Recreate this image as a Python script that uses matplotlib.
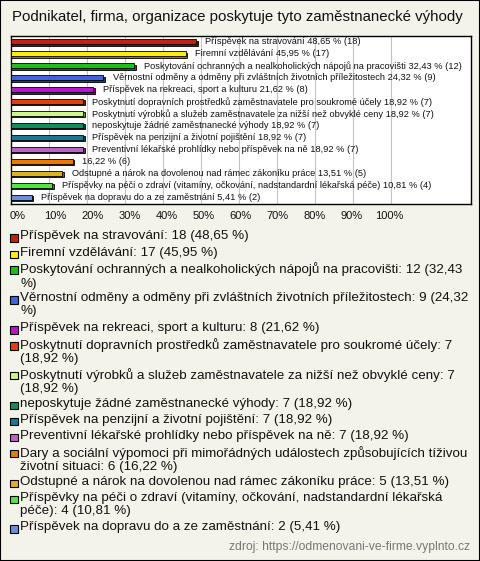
import matplotlib
matplotlib.use("Agg")
import matplotlib.pyplot as plt
from matplotlib.colors import to_rgb
from matplotlib.patches import Rectangle

W, H = 480, 561
BG = "#f3f3ea"
FONT = "Liberation Sans"

TITLE = "Podnikatel, firma, organizace poskytuje tyto zaměstnanecké výhody"
SOURCE = "zdroj: https://odmenovani-ve-firme.vyplnto.cz"

labels = [
    "Příspěvek na stravování",
    "Firemní vzdělávání",
    "Poskytování ochranných a nealkoholických nápojů na pracovišti",
    "Věrnostní odměny a odměny při zvláštních životních příležitostech",
    "Příspěvek na rekreaci, sport a kulturu",
    "Poskytnutí dopravních prostředků zaměstnavatele pro soukromé účely",
    "Poskytnutí výrobků a služeb zaměstnavatele za nižší než obvyklé ceny",
    "neposkytuje žádné zaměstnanecké výhody",
    "Příspěvek na penzijní a životní pojištění",
    "Preventivní lékařské prohlídky nebo příspěvek na ně",
    "Dary a sociální výpomoci při mimořádných událostech způsobujících tíživou životní situaci",
    "Odstupné a nárok na dovolenou nad rámec zákoníku práce",
    "Příspěvky na péči o zdraví (vitamíny, očkování, nadstandardní lékařská péče)",
    "Příspěvek na dopravu do a ze zaměstnání",
]
counts = [18, 17, 12, 9, 8, 7, 7, 7, 7, 7, 6, 5, 4, 2]
percents = [48.65, 45.95, 32.43, 24.32, 21.62, 18.92, 18.92, 18.92, 18.92,
            18.92, 16.22, 13.51, 10.81, 5.41]
colors = ["#c8200e", "#ffee00", "#1cbf1c", "#3f64e0", "#b816c8", "#e2400e",
          "#ccf888", "#168c5c", "#1a7890", "#c060c8", "#ee7800", "#e0b020",
          "#50e840", "#6a8fd8"]
# the long label has no name next to its bar in the original
hide_bar_name = [10]
# legend lines break after this many words (None = one line), as in the original
legend_break = [None, None, 9, 10, None, 8, 11, None, None, None, 9, None, 9, None]
x_ticks = [0, 10, 20, 30, 40, 50, 60, 70, 80, 90, 100]


def fmt(p):
    return f"{p:.2f}".replace(".", ",")


def darker(c, f=0.55):
    return tuple(v * f for v in to_rgb(c))


def px(x, y):
    return x / W, 1 - y / H


fig = plt.figure(figsize=(W / 100, H / 100), dpi=100, facecolor=BG)
fig.patches.append(Rectangle((0, 0), 1, 1, transform=fig.transFigure,
                             fill=False, edgecolor="black", linewidth=1.5))

fig.text(*px(237, 17), TITLE, ha="center", va="center", fontsize=10.8,
         family=FONT, color="#111111")

# ---- bar chart ----
left, right, top, bottom = 11, 471, 36, 204
ax = fig.add_axes([left / W, 1 - bottom / H, (right - left) / W, (bottom - top) / H])
ax.set_facecolor("white")
n = len(labels)
ypos = list(range(n))
ax.set_xlim(0, 121)
ax.set_ylim(n - 0.45, -0.5)
for x in x_ticks[1:]:
    ax.axvline(x, color="#c4c4c4", linewidth=0.8, zorder=0)

bar_h = 0.42
ax.barh([y + 0.1 for y in ypos], [p + 0.45 for p in percents], height=bar_h,
        color=[darker(c) for c in colors], edgecolor="black", linewidth=0.6, zorder=2)
ax.barh(ypos, percents, height=bar_h, color=colors, edgecolor="black",
        linewidth=0.6, zorder=3)

for i, (lab, p, c) in enumerate(zip(labels, percents, counts)):
    name = "" if i in hide_bar_name else lab + " "
    ax.text(p + 2.5, i, f"{name}{fmt(p)} % ({c})", va="center", ha="left",
            fontsize=6.65, family=FONT, color="#111111", zorder=4)

ax.set_xticks([])
ax.set_yticks([])
for s in ax.spines.values():
    s.set_linewidth(1.0)
    s.set_color("black")

for t in x_ticks:
    fig.text(*px(18 + t * 3.71, 216), f"{t}%", ha="center", va="center",
             fontsize=8, family=FONT, color="#111111")

# ---- legend ----
line_h, item_gap = 13.8, 2.2
y = 238
for lab, p, c, col, brk in zip(labels, percents, counts, colors, legend_break):
    words = f"{lab}: {c} ({fmt(p)} %)".split(" ")
    if brk is None:
        text = " ".join(words)
    else:
        text = " ".join(words[:brk]) + "\n" + " ".join(words[brk:])
    nlines = text.count("\n") + 1
    fig.patches.append(Rectangle(px(10, y + 4), 7.5 / W, 7.5 / H,
                                 transform=fig.transFigure, facecolor=col,
                                 edgecolor="black", linewidth=0.8))
    fig.text(*px(20.5, y - 7.5), text, ha="left", va="top", fontsize=9.6,
             family=FONT, color="#111111", linespacing=1.12)
    y += nlines * line_h + item_gap

fig.text(*px(470, 547), SOURCE, ha="right", va="center", fontsize=8.7,
         family=FONT, color="#777777")

fig.savefig("out.png", dpi=100, facecolor=BG)
